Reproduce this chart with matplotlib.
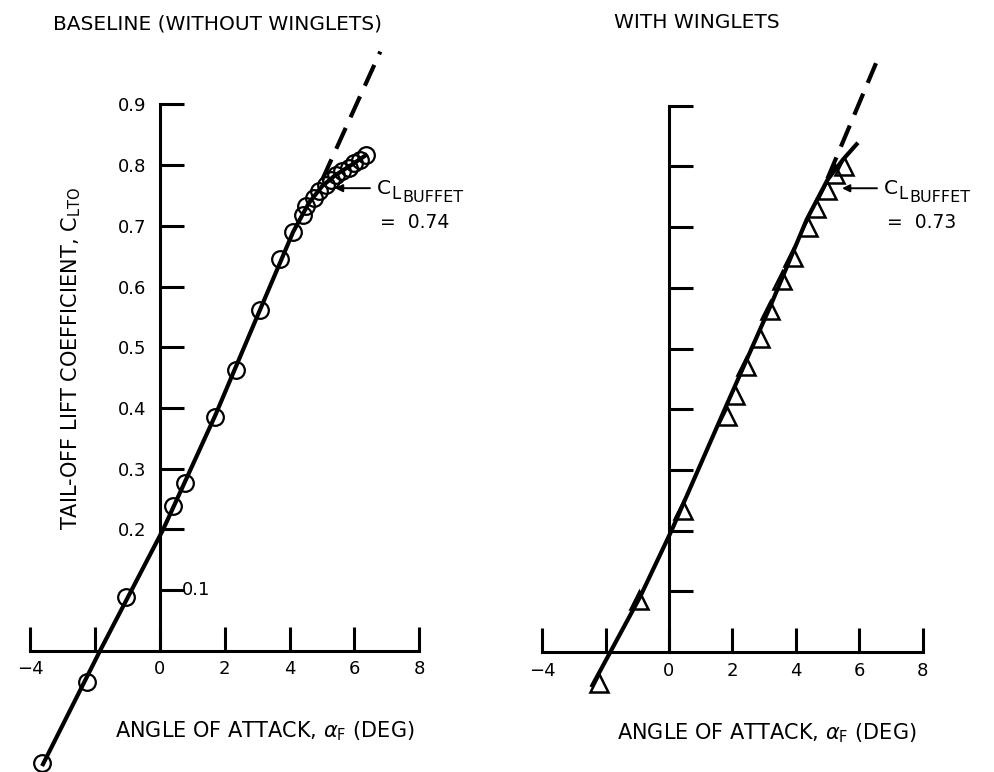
import matplotlib.pyplot as plt
from matplotlib.transforms import offset_copy

plt.rcParams['font.family'] = ['DejaVu Sans']
plt.rcParams['mathtext.fontset'] = 'dejavusans'

# Baseline (without winglets) - circles
base_alpha = [-3.64, -2.25, -1.05, 0.41, 0.77, 1.70, 2.34, 3.09, 3.70, 4.11, 4.40,
              4.52, 4.74, 4.92, 5.12, 5.28, 5.42, 5.62, 5.82, 5.98, 6.17, 6.36]
base_cl = [-0.185, -0.052, 0.088, 0.238, 0.277, 0.385, 0.462, 0.561, 0.645, 0.690, 0.718,
           0.732, 0.745, 0.757, 0.768, 0.776, 0.784, 0.790, 0.796, 0.803, 0.809, 0.817]
base_fit_alpha = [-3.64, -1.85, 0.1, 1.7, 3.09, 4.11, 4.6, 5.0, 5.4, 5.9, 6.4]
base_fit_cl = [-0.19, 0.0, 0.2, 0.387, 0.562, 0.69, 0.738, 0.765, 0.783, 0.80, 0.818]
base_dash_alpha = [5.0, 6.8]
base_dash_cl = [0.775, 0.987]
base_buffet = '0.74'

# With winglets - triangles
wing_alpha = [-2.21, -0.95, 0.45, 1.82, 2.08, 2.43, 2.87, 3.19, 3.55, 3.90, 4.40,
              4.63, 4.99, 5.25, 5.52]
wing_cl = [-0.051, 0.086, 0.234, 0.388, 0.423, 0.471, 0.518, 0.563, 0.613, 0.650, 0.700,
           0.731, 0.761, 0.788, 0.800]
wing_fit_alpha = [-2.45, -0.91, 0.08, 1.8, 3.2, 4.34, 5.0, 5.5, 5.96]
wing_fit_cl = [-0.058, 0.091, 0.2, 0.405, 0.57, 0.712, 0.778, 0.812, 0.839]
wing_dash_alpha = [5.0, 6.53]
wing_dash_cl = [0.78, 0.97]
wing_buffet = '0.73'

xticks = [-4, -2, 0, 2, 4, 6, 8]
xticklabels = ['\u22124', '', '0', '2', '4', '6', '8']
yticks = [0.1, 0.2, 0.3, 0.4, 0.5, 0.6, 0.7, 0.8, 0.9]
yticklabels = ['', '0.2', '0.3', '0.4', '0.5', '0.6', '0.7', '0.8', '0.9']

W, H = 994, 772
fig = plt.figure(figsize=(W / 100, H / 100), dpi=100)


def make_axes(x0, sx, y0, sy, xlim=(-4.6, 8.6), ylim=(-0.19, 1.0)):
    # x0/y0: pixel position of data origin, sx/sy: pixels per unit
    left = (x0 + sx * xlim[0]) / W
    width = sx * (xlim[1] - xlim[0]) / W
    bottom = (H - (y0 - sy * ylim[0])) / H
    height = sy * (ylim[1] - ylim[0]) / H
    ax = fig.add_axes([left, bottom, width, height])
    ax.set_xlim(xlim)
    ax.set_ylim(ylim)
    ax.patch.set_visible(False)
    ax.spines['top'].set_visible(False)
    ax.spines['right'].set_visible(False)
    for s in ['left', 'bottom']:
        ax.spines[s].set_position(('data', 0))
        ax.spines[s].set_linewidth(2.2)
    ax.spines['left'].set_bounds(0, 0.9)
    ax.spines['bottom'].set_bounds(-4, 8)
    ax.set_xticks(xticks)
    ax.set_xticklabels(xticklabels)
    ax.set_yticks(yticks)
    ax.tick_params(axis='both', direction='in', length=17, width=2.2, labelsize=13)
    ax.tick_params(axis='x', pad=7)
    ax.tick_params(axis='y', pad=10)
    return ax


def draw(ax, a, cl, fa, fcl, da, dcl, marker, ms, mew):
    ax.plot(fa, fcl, color='k', lw=3, clip_on=False, solid_capstyle='butt')
    ax.plot(da, dcl, color='k', lw=3, dashes=(5.5, 2.8), clip_on=False)
    ax.plot(a, cl, ls='none', marker=marker, ms=ms, mew=mew, mfc='none', mec='k',
            clip_on=False)


def buffet(ax, head, tail, value):
    ax.annotate('', xy=head, xytext=tail,
                arrowprops=dict(arrowstyle='-|>', lw=1.4, color='k',
                                mutation_scale=11, shrinkA=0, shrinkB=0))
    tx, ty = tail[0] + 0.22, tail[1]
    ax.text(tx, ty, 'C', fontsize=14.5, va='center', ha='left')
    ax.text(tx, ty, 'L', fontsize=12, va='center', ha='left',
            transform=offset_copy(ax.transData, fig=fig, x=10.5, y=-4, units='points'))
    ax.text(tx, ty, 'BUFFET', fontsize=11.5, va='center', ha='left',
            transform=offset_copy(ax.transData, fig=fig, x=18.5, y=-7, units='points'))
    ax.text(tx + 0.1, ty - 0.057, '=  ' + value, fontsize=13.5, va='center', ha='left')


ax1 = make_axes(160, 32.4, 650.7, 607)
ax1.set_yticklabels(yticklabels)
ax1.annotate('0.1', xy=(0, 0.1), xytext=(15.5, 0), textcoords='offset points',
             fontsize=13, va='center', ha='left')
draw(ax1, base_alpha, base_cl, base_fit_alpha, base_fit_cl,
     base_dash_alpha, base_dash_cl, 'o', 12, 1.6)
buffet(ax1, (5.4, 0.762), (6.48, 0.762), base_buffet)

ax2 = make_axes(669, 31.7, 652, 607)
ax2.set_yticklabels([''] * len(yticks))
draw(ax2, wing_alpha, wing_cl, wing_fit_alpha, wing_fit_cl,
     wing_dash_alpha, wing_dash_cl, '^', 13, 1.8)
buffet(ax2, (5.46, 0.764), (6.56, 0.764), wing_buffet)

fig.text(53 / W, 1 - 29 / H, 'BASELINE (WITHOUT WINGLETS)', fontsize=14.5,
         ha='left', va='baseline')
fig.text(614 / W, 1 - 28 / H, 'WITH WINGLETS', fontsize=14.5, ha='left', va='baseline')
fig.text(71 / W, 1 - 358 / H, r'TAIL-OFF LIFT COEFFICIENT, C$_\mathregular{LTO}$',
         fontsize=15, rotation=90, ha='center', va='center')
xlab = r'ANGLE OF ATTACK, $\alpha_\mathregular{F}$ (DEG)'
fig.text(115 / W, 1 - 737 / H, xlab, fontsize=15, ha='left', va='baseline')
fig.text(617 / W, 1 - 739 / H, xlab, fontsize=15, ha='left', va='baseline')

fig.savefig('out.png', dpi=100)
